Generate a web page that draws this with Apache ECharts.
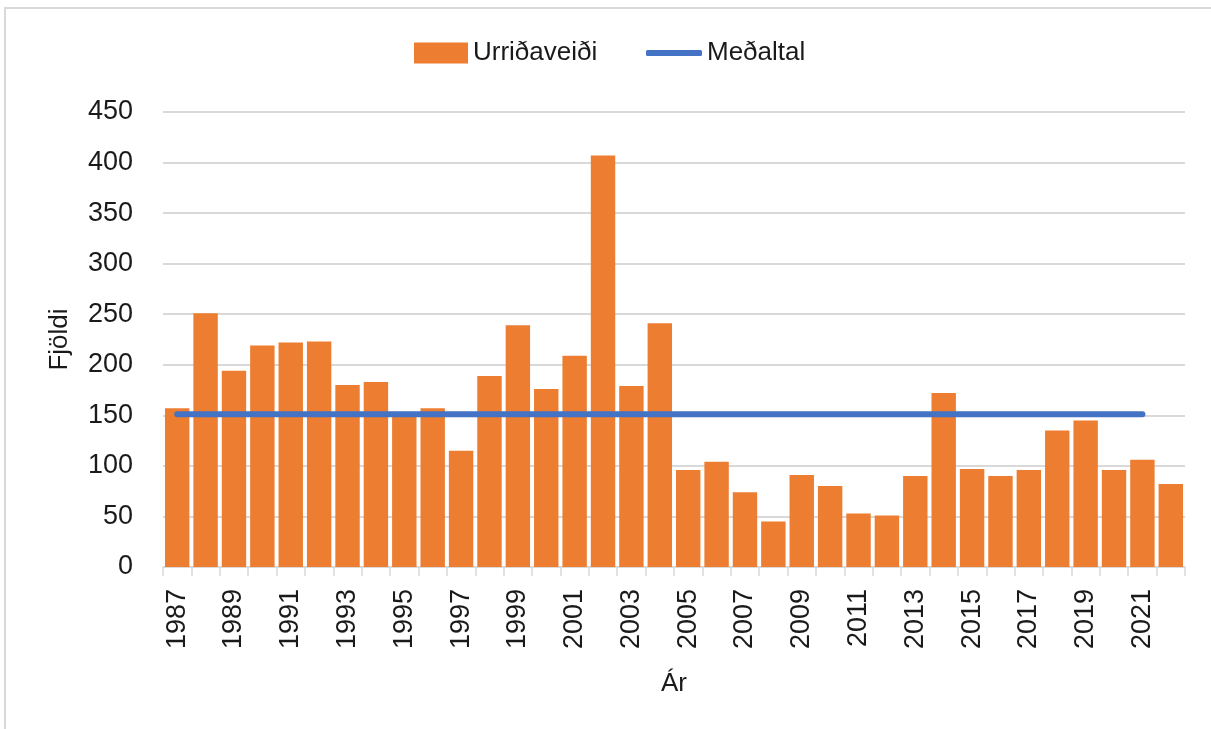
<!DOCTYPE html>
<html>
<head>
<meta charset="utf-8">
<script src="https://cdn.jsdelivr.net/npm/echarts@6/dist/echarts.min.js"></script>
<style>
  html, body { margin: 0; padding: 0; background: #fff; }
  #chart { width: 1211px; height: 729px; }
</style>
</head>
<body>
<div id="chart"></div>
<script>
// ár
var years = [
  '1987', '1988', '1989', '1990', '1991', '1992', '1993', '1994', '1995', '1996',
  '1997', '1998', '1999', '2000', '2001', '2002', '2003', '2004', '2005', '2006',
  '2007', '2008', '2009', '2010', '2011', '2012', '2013', '2014', '2015', '2016',
  '2017', '2018', '2019', '2020', '2021', '2022'
];
// urriðaveiði (fjöldi)
var urridaveidi = [
  157, 251, 194, 219, 222, 223, 180, 183, 150, 157,
  115, 189, 239, 176, 209, 407, 179, 241, 96, 104,
  74, 45, 91, 80, 53, 51, 90, 172, 97, 90,
  96, 135, 145, 96, 106, 82
];
// meðaltal, nær ekki til 2022
var medaltal = [
  151, 151, 151, 151, 151, 151, 151, 151, 151, 151,
  151, 151, 151, 151, 151, 151, 151, 151, 151, 151,
  151, 151, 151, 151, 151, 151, 151, 151, 151, 151,
  151, 151, 151, 151, 151, null
];
var yTicks = [0, 450, 50];

var chart = echarts.init(document.getElementById('chart'));
var font = 'Liberation Sans, Arial, sans-serif';
var txt = '#1a1a1a';

var option = {
  animation: false,
  backgroundColor: '#fff',
  textStyle: { fontFamily: font },
  graphic: [{
    type: 'rect',
    shape: { x: 5, y: 8, width: 1300, height: 800 },
    style: { fill: 'none', stroke: '#d9d9d9', lineWidth: 2 },
    silent: true
  }],
  // tvær skýringar svo línutáknið verði mjótt
  legend: [{
    left: 409,
    top: 35,
    itemWidth: 54,
    itemHeight: 21,
    itemGap: 6,
    textStyle: { fontSize: 26, color: txt, fontFamily: font },
    data: [{ name: 'Urriðaveiði', icon: 'rect' }]
  }, {
    left: 641,
    top: 35,
    itemWidth: 56,
    itemHeight: 6,
    itemGap: 6,
    textStyle: { fontSize: 26, color: txt, fontFamily: font },
    data: [{ name: 'Meðaltal', icon: 'roundRect', itemStyle: { color: '#4472C4' } }]
  }],
  grid: {
    left: 163,
    right: 26,
    top: 112,
    bottom: 162
  },
  xAxis: {
    type: 'category',
    data: years,
    name: 'Ár',
    nameLocation: 'middle',
    nameGap: 104,
    nameTextStyle: { fontSize: 26, color: txt },
    axisLine: { lineStyle: { color: '#d9d9d9', width: 1.5 } },
    axisTick: { show: true, interval: 0, length: 9, lineStyle: { color: '#d9d9d9', width: 1.5 } },
    axisLabel: {
      interval: 1,
      rotate: 90,
      fontSize: 27,
      color: txt,
      margin: 22
    }
  },
  yAxis: {
    type: 'value',
    min: yTicks[0],
    max: yTicks[1],
    interval: yTicks[2],
    name: 'Fjöldi',
    nameLocation: 'middle',
    nameGap: 90,
    nameTextStyle: { fontSize: 26, color: txt },
    axisLine: { show: false },
    axisTick: { show: false },
    axisLabel: { fontSize: 27, color: txt, margin: 30 },
    splitLine: { lineStyle: { color: '#d9d9d9', width: 2 } }
  },
  series: [{
    name: 'Urriðaveiði',
    type: 'bar',
    data: urridaveidi,
    barCategoryGap: '14%',
    itemStyle: { color: '#ED7D31' }
  }, {
    name: 'Meðaltal',
    type: 'line',
    data: medaltal,
    showSymbol: false,
    symbol: 'none',
    lineStyle: { color: '#4472C4', width: 6, cap: 'round' },
    itemStyle: { color: '#4472C4' },
    z: 3
  }]
};

chart.setOption(option);
</script>
</body>
</html>
